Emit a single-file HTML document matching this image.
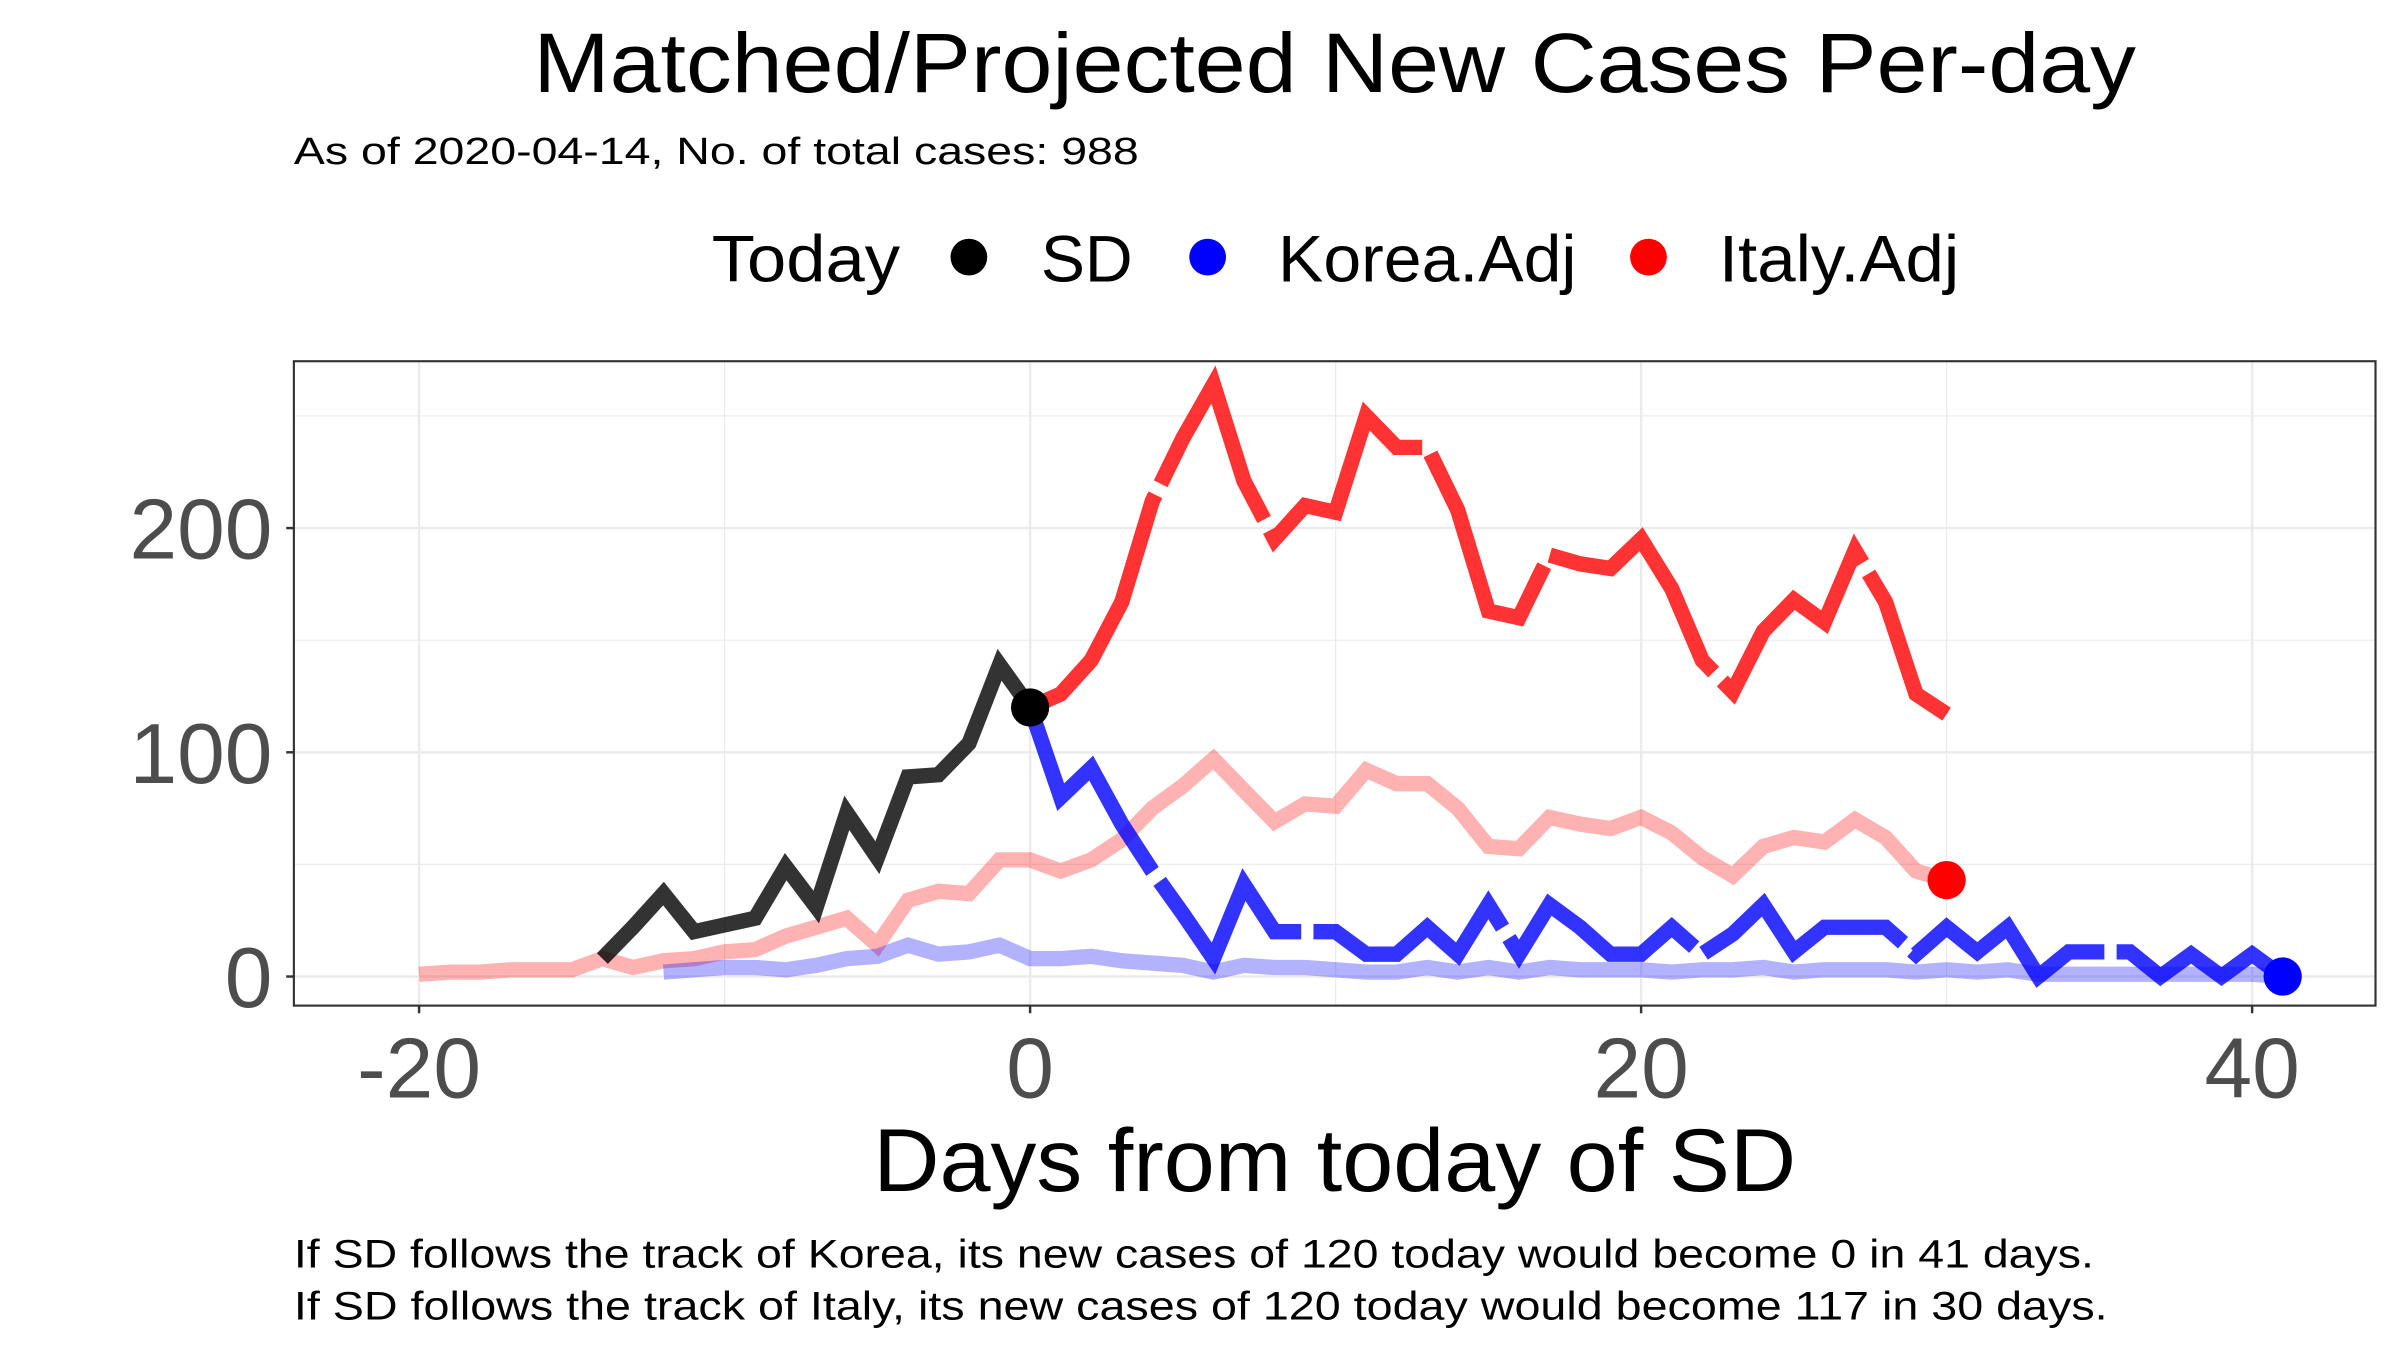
<!DOCTYPE html>
<html><head><meta charset="utf-8"><style>
html,body{margin:0;padding:0;background:#fff;}
svg{display:block;font-family:"Liberation Sans",Arial,sans-serif;}
</style></head><body>
<svg id="chart" width="2400" height="1350" viewBox="0 0 1568 882" xmlns="http://www.w3.org/2000/svg">
<rect x="0" y="0" width="1568" height="882" fill="#fff"/>
<text x="872" y="60" font-size="55" text-anchor="middle" textLength="1047" lengthAdjust="spacingAndGlyphs">Matched/Projected New Cases Per-day</text>
<text x="192" y="107" font-size="25" textLength="552" lengthAdjust="spacingAndGlyphs">As of 2020-04-14, No. of total cases: 988</text>
<g>
<text x="465" y="184" font-size="43" textLength="123" lengthAdjust="spacingAndGlyphs">Today</text>
<circle cx="633" cy="168" r="12" fill="#000"/>
<text x="680" y="184" font-size="43" textLength="60" lengthAdjust="spacingAndGlyphs">SD</text>
<circle cx="789" cy="168" r="12" fill="#00f"/>
<text x="835" y="184" font-size="43" textLength="195" lengthAdjust="spacingAndGlyphs">Korea.Adj</text>
<circle cx="1077" cy="168" r="12" fill="#f00"/>
<text x="1123" y="184" font-size="43" textLength="157" lengthAdjust="spacingAndGlyphs">Italy.Adj</text>
</g>
<g id="grid"></g>
<g id="series"></g>
<rect x="192" y="236" width="1360" height="421" fill="none" stroke="#333" stroke-width="1.4"/>
<g id="axes"></g>
<text x="872" y="778" font-size="58" text-anchor="middle" textLength="603" lengthAdjust="spacingAndGlyphs">Days from today of SD</text>
<text x="192" y="828" font-size="26" textLength="1176" lengthAdjust="spacingAndGlyphs">If SD follows the track of Korea, its new cases of 120 today would become 0 in 41 days.</text>
<text x="192" y="862" font-size="26" textLength="1185" lengthAdjust="spacingAndGlyphs">If SD follows the track of Italy, its new cases of 120 today would become 117 in 30 days.</text>
</svg>
<script>
const xTicks = [-20, 0, 20, 40];
const xMinor = [-10, 10, 30];
const yTicks = [0, 100, 200];
const yMinor = [50, 150, 250];
const sdDays = [-14,-13,-12,-11,-10,-9,-8,-7,-6,-5,-4,-3,-2,-1,0];
const sdValues = [8,22,37,20,23,26,49,31,73,53,89,90,104,139,120];
const italyRawStart = -20;
const italyRaw = [1,2,2,3,3,3,8,4,7,8,11,12,18,22,26,14,34,38,37,52,52,47,52,61,75,85,97,83,69,77,76,92,86,86,75,58,57,71,68,66,71,64,53,45,58,62,60,70,62,47,43];
const koreaRawStart = -12;
const koreaRaw = [2,3,4,4,3,5,8,9,14,10,11,14,8,8,9,7,6,5,2,5,4,4,3,2,2,4,2,4,2,4,3,3,3,2,3,3,4,2,3,3,3,2,3,2,3,1,1,1,1,1,1,1,1,0];
const italyAdjStart = 0;
const italyAdj = [120,126,141,167,212,240,264,221,195,210,207,250,236,236,208,163,160,188,184,182,195,173,141,127,154,168,158,190,167,126,117];
const koreaAdjStart = 0;
const koreaAdj = [120,80,93,68,47,28,8,41,20,20,20,10,10,22,10,32,10,32,22,10,10,22,10,19,32,11,22,22,22,10,22,11,22,0,11,11,11,0,10,0,10,0];
const todayPoint = [0, 120];
const koreaEnd = [41, 0];
const italyEnd = [30, 43];

const X0=673, XS=19.96, Y0=638, YS=1.465;
const L=192,R=1552,T=236,B=657;
function x(d){return X0+d*XS;}
function y(v){return Y0-v*YS;}
const NS="http://www.w3.org/2000/svg";
function mk(tag,parent,attrs){const e=document.createElementNS(NS,tag);for(const k in attrs)e.setAttribute(k,attrs[k]);parent.appendChild(e);return e;}
const grid=document.getElementById('grid'), series=document.getElementById('series'), axes=document.getElementById('axes');

yMinor.forEach(v=>{const e=mk('line',grid,{x1:L,x2:R,y1:y(v),y2:y(v),stroke:'#ebebeb','stroke-width':0.8});

});
xMinor.forEach(d=>{const e=mk('line',grid,{x1:x(d),x2:x(d),y1:T,y2:B,stroke:'#ebebeb','stroke-width':0.8});

});
yTicks.forEach(v=>{const e=mk('line',grid,{x1:L,x2:R,y1:y(v),y2:y(v),stroke:'#ebebeb','stroke-width':1.6});


const t=mk('line',axes,{x1:L-5,x2:L,y1:y(v),y2:y(v),stroke:'#333','stroke-width':1.6});


const lb=mk('text',axes,{x:L-14,y:y(v)+20,'font-size':56,'text-anchor':'end',fill:'#4d4d4d'});lb.textContent=v;

});
xTicks.forEach(d=>{const e=mk('line',grid,{x1:x(d),x2:x(d),y1:T,y2:B,stroke:'#ebebeb','stroke-width':1.6});


const t=mk('line',axes,{x1:x(d),x2:x(d),y1:B,y2:B+5,stroke:'#333','stroke-width':1.6});


const lb=mk('text',axes,{x:x(d),y:B+60,'font-size':56,'text-anchor':'middle',fill:'#4d4d4d'});lb.textContent=d;

});

function pts(start,vals){return vals.map((v,i)=>x(start+i).toFixed(1)+','+y(v).toFixed(1)).join(' ');}
function line(p,color,op,dash,name){const e=mk('polyline',series,{points:p,fill:'none',stroke:color,'stroke-opacity':op,'stroke-width':10,'stroke-linejoin':'miter','stroke-miterlimit':3});
if(dash)e.setAttribute('stroke-dasharray',dash);

}
line(pts(italyRawStart,italyRaw),'#ff0000',0.3,null,'italy-raw-line');
line(pts(koreaRawStart,koreaRaw),'#0000ff',0.3,null,'korea-raw-line');
line(sdDays.map((d,i)=>x(d)+','+y(sdValues[i])).join(' '),'#000',0.8,null,'sd-line');
line(pts(italyAdjStart,italyAdj),'#ff0000',0.8,'168 8','italy-adj-line');
line(pts(koreaAdjStart,koreaAdj),'#0000ff',0.8,'168 8','korea-adj-line');
function dot(p,c,name){const e=mk('circle',series,{cx:x(p[0]),cy:y(p[1]),r:12.5,fill:c});

}
dot(todayPoint,'#000','today-point');
dot(italyEnd,'#ff0000','italy-end-point');
dot(koreaEnd,'#0000ff','korea-end-point');
</script>
</body></html>
